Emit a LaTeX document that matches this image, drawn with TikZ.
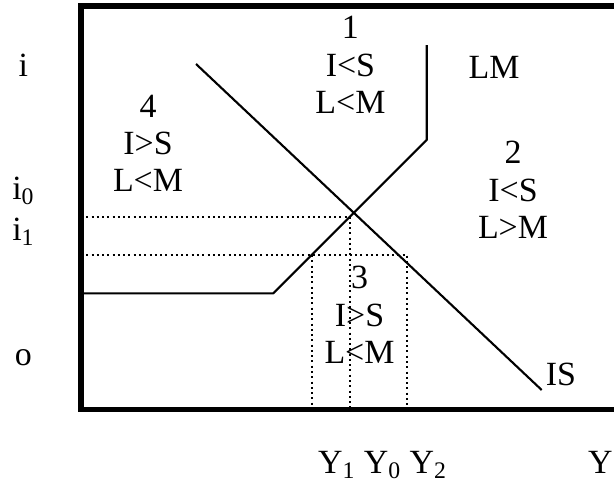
\documentclass[tikz,border=0pt]{standalone}
\usepackage{fontspec}
\setmainfont{Liberation Serif}
\begin{document}
\begin{tikzpicture}[line join=round,
	curve/.style={line width=1.2pt},
	guide/.style={line width=1.15pt, dash pattern=on 1.15pt off 1.85pt},
	lbl/.style={font=\fontsize{19.3}{21.3}\selectfont, inner sep=0pt, align=center}]
	\useasboundingbox (0,0) rectangle (12.28,9.66);
	
	% key points of the two curves
	\coordinate (LMtop) at (8.534,8.76);
	\coordinate (LMk1) at (8.534,6.86);
	\coordinate (LMk2) at (5.466,3.794);
	\coordinate (LMend) at (1.62,3.794);
	\coordinate (IStop) at (3.92,8.38);
	\coordinate (ISbot) at (10.834,1.86);
	
	% guide lines
	\draw[guide] (1.62,5.326) -- (7.0,5.326) -- (7.0,1.5);
	\draw[guide] (1.62,4.56) -- (8.146,4.56) -- (8.146,1.5);
	\draw[guide] (6.234,4.56) -- (6.234,1.5);
	
	\draw[curve] (LMtop) -- (LMk1) -- (LMk2) -- (LMend);
	\draw[curve] (IStop) -- (ISbot);
	
	% frame
	\draw[line width=3.1pt, line join=miter] (12.8,9.54) -- (1.62,9.54) -- (1.62,1.466) -- (12.8,1.466);
	
	\node[lbl] (lm) at (9.88,8.31) {LM};
	\node[lbl] (is) at (11.22,2.17) {IS};
	\node[lbl] (r1) at (7.008,8.36) {1\\I<S\\L<M};
	\node[lbl] (r4) at (2.96,6.794) {4\\I>S\\L<M};
	\node[lbl] (r2) at (10.26,5.86) {2\\I<S\\L>M};
	\node[lbl] (r3) at (7.19,3.36) {3\\I>S\\L<M};
	
	\node[lbl, anchor=base] (ri) at (0.467,8.126) {i};
	\node[lbl, anchor=base] (ri0) at (0.467,5.68) {i\textsubscript{0}};
	\node[lbl, anchor=base] (ri1) at (0.467,4.86) {i\textsubscript{1}};
	\node[lbl, anchor=base] (ro) at (0.467,2.36) {o};
	
	\node[lbl, anchor=base] (ylist) at (7.65,0.193) {Y\textsubscript{1} Y\textsubscript{0} Y\textsubscript{2}};
	\node[lbl, anchor=base east] (y) at (12.26,0.193) {Y};
\end{tikzpicture}
\end{document}
